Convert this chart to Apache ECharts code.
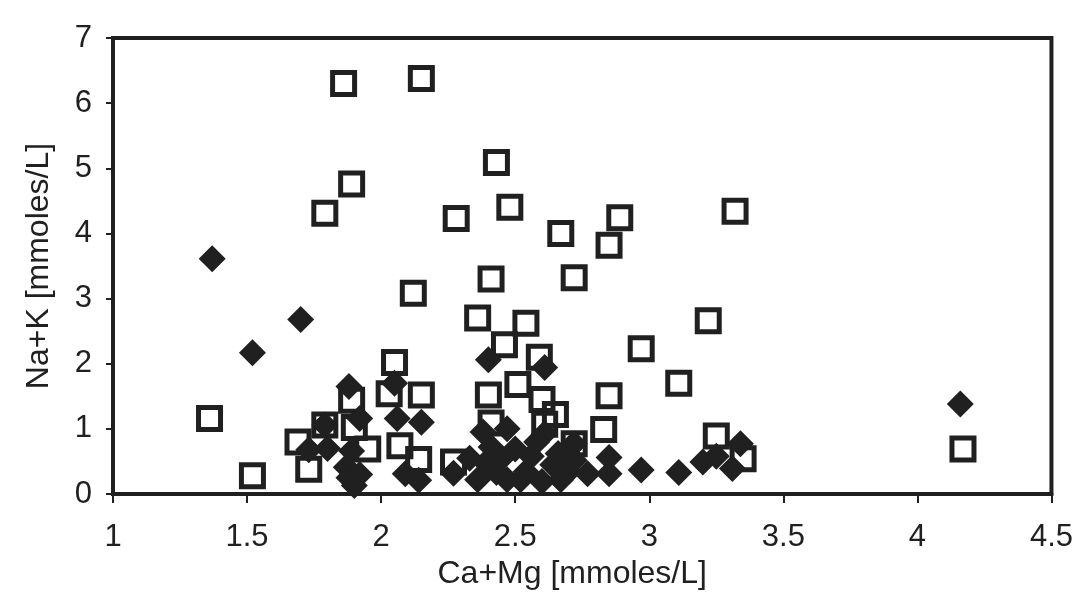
<!DOCTYPE html>
<html>
<head>
<meta charset="utf-8">
<script src="https://cdn.jsdelivr.net/npm/echarts@6/dist/echarts.min.js"></script>
<style>
  html, body { margin: 0; padding: 0; background: #ffffff; }
  #chart { width: 1076px; height: 595px; }
</style>
</head>
<body>
<div id="chart"></div>
<script>
// Open squares
const squareX = [1.86, 2.15, 1.89, 1.79, 2.43, 2.28, 2.48, 2.67, 2.89, 2.85, 3.32, 2.41, 2.72, 2.12,
  2.36, 2.54, 2.46, 3.22, 2.97, 2.05, 2.59, 3.11, 1.36, 1.52, 4.17, 1.69, 1.79, 1.73, 1.89, 1.90,
  1.95, 2.03, 2.15, 2.07, 2.14, 2.27, 2.40, 2.51, 2.60, 2.65, 2.85, 2.83, 2.41, 2.61, 2.72, 3.25, 3.35];
const squareY = [6.30, 6.38, 4.76, 4.31, 5.09, 4.23, 4.40, 4.00, 4.24, 3.82, 4.34, 3.30, 3.32, 3.08,
  2.70, 2.62, 2.29, 2.66, 2.23, 2.02, 2.10, 1.70, 1.16, 0.28, 0.69, 0.80, 1.06, 0.38, 1.44, 1.02,
  0.69, 1.54, 1.52, 0.74, 0.53, 0.49, 1.52, 1.68, 1.45, 1.22, 1.51, 0.99, 1.09, 1.07, 0.77, 0.89, 0.54];

// Filled diamonds
const diamondX = [1.37, 1.52, 1.70, 1.88, 2.40, 2.61, 4.16, 1.92, 2.05, 2.06, 2.15, 1.73, 1.80, 1.89,
  1.87, 1.88, 1.90, 1.92, 2.09, 2.14, 2.27, 2.38, 2.47, 2.61, 2.50, 2.39, 2.43, 2.54, 2.64, 2.70,
  2.77, 2.60, 2.85, 2.85, 2.97, 3.11, 3.20, 3.34, 3.31, 3.25, 2.70, 2.41, 2.33, 2.47, 2.67, 2.72,
  2.45, 2.56, 2.66, 2.52, 2.36, 2.58, 1.79, 2.72];
const diamondY = [3.61, 2.17, 2.68, 1.65, 2.06, 1.94, 1.38, 1.16, 1.70, 1.16, 1.10, 0.68, 0.70, 0.66,
  0.41, 0.25, 0.13, 0.30, 0.31, 0.21, 0.32, 0.95, 1.00, 0.93, 0.69, 0.48, 0.33, 0.34, 0.45, 0.35,
  0.31, 0.19, 0.56, 0.31, 0.37, 0.33, 0.49, 0.77, 0.39, 0.58, 0.69, 0.72, 0.55, 0.22, 0.22, 0.52,
  0.55, 0.58, 0.62, 0.22, 0.22, 0.80, 1.06, 0.77];

const xTicks = [1, 1.5, 2, 2.5, 3, 3.5, 4, 4.5];
const yTicks = [0, 1, 2, 3, 4, 5, 6, 7];
const xTitle = 'Ca+Mg [mmoles/L]';
const yTitle = 'Na+K [mmoles/L]';

const ink = '#202020';
const font = '"Liberation Sans", Arial, sans-serif';

const zip = (xs, ys) => xs.map((x, i) => [x, ys[i]]);

const chart = echarts.init(document.getElementById('chart'));
chart.setOption({
  backgroundColor: '#ffffff',
  animation: false,
  grid: {
    left: 113, right: 20, top: 38, bottom: 101,
    show: true, borderColor: ink, borderWidth: 4, backgroundColor: 'transparent'
  },
  xAxis: {
    type: 'value',
    min: xTicks[0], max: xTicks[xTicks.length - 1], interval: 0.5,
    name: xTitle, nameLocation: 'middle', nameGap: 62,
    nameTextStyle: { fontFamily: font, fontSize: 32, color: ink, padding: [0, 20, 0, 0] },
    axisLine: { show: true, lineStyle: { color: ink, width: 4 } },
    axisTick: { show: true, inside: false, length: 9, lineStyle: { color: ink, width: 2 } },
    axisLabel: { margin: 28, fontFamily: font, fontSize: 31, color: ink },
    splitLine: { show: false }
  },
  yAxis: {
    type: 'value',
    min: yTicks[0], max: yTicks[yTicks.length - 1], interval: 1,
    name: yTitle, nameLocation: 'middle', nameGap: 58,
    nameTextStyle: { fontFamily: font, fontSize: 32, color: ink },
    axisLine: { show: true, lineStyle: { color: ink, width: 4 } },
    axisTick: { show: true, inside: false, length: 7, lineStyle: { color: ink, width: 2 } },
    axisLabel: { margin: 21, fontFamily: font, fontSize: 31, color: ink },
    splitLine: { show: false }
  },
  series: [
    {
      type: 'scatter',
      name: 'squares',
      data: zip(squareX, squareY),
      symbol: 'rect',
      symbolSize: 22,
      clip: false,
      itemStyle: { color: 'rgba(255,255,255,0)', borderColor: ink, borderWidth: 5, opacity: 1 },
      z: 2
    },
    {
      type: 'scatter',
      name: 'diamonds',
      data: zip(diamondX, diamondY),
      symbol: 'diamond',
      symbolSize: 27,
      clip: false,
      itemStyle: { color: ink, opacity: 1 },
      z: 3
    }
  ]
});
</script>
</body>
</html>
